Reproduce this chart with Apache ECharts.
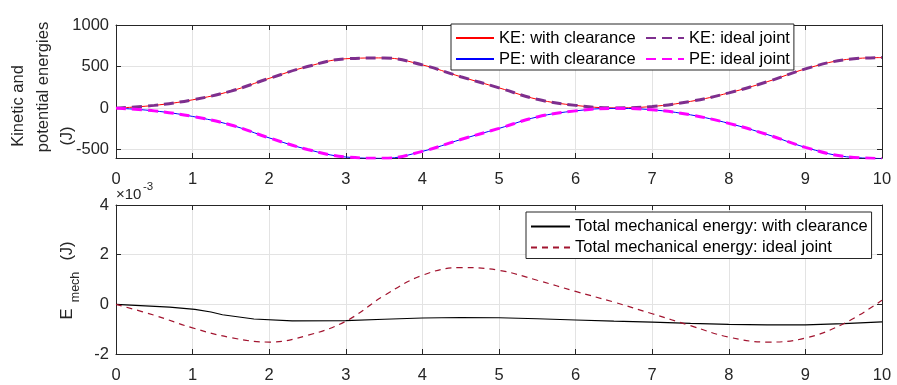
<!DOCTYPE html>
<html>
<head>
<meta charset="utf-8">
<script src="https://cdn.jsdelivr.net/npm/echarts@6/dist/echarts.min.js"></script>
<style>
  html, body { margin: 0; padding: 0; background: #fff; }
  #main { width: 897px; height: 385px; }
</style>
</head>
<body>
<div id="main"></div>
<script>
// time (s), sampled every 0.5 s
var tTop = [0, 0.5, 1, 1.5, 2, 2.5, 3, 3.5, 4, 4.5, 5, 5.5, 6, 6.5, 7, 7.5, 8, 8.5, 9, 9.5, 10];
// energies (J)
var keClear = [0, 33, 100, 205, 358, 500, 594, 604, 520, 378, 244, 106, 33, 3, 20, 81, 183, 317, 472, 581, 608];
var peClear = [0, -33, -100, -203, -358, -497, -588, -604, -520, -378, -244, -106, -33, -3, -20, -81, -183, -317, -472, -581, -606];
var keIdeal = [0, 33, 100, 205, 358, 500, 594, 604, 520, 378, 244, 106, 33, 3, 20, 81, 183, 317, 472, 581, 608];
var peIdeal = [0, -33, -100, -203, -358, -497, -588, -604, -520, -378, -244, -106, -33, -3, -20, -81, -183, -317, -472, -581, -606];

// total mechanical energy (x10^-3 J)
var emIdeal = [0, -0.44, -0.95, -1.34, -1.52, -1.25, -0.68, 0.35, 1.17, 1.48, 1.37, 0.97, 0.52, 0.09, -0.38, -0.86, -1.32, -1.52, -1.36, -0.78, 0.16];
var tClear = [0, 0.7, 0.71, 1.03, 1.04, 1.24, 1.25, 1.39, 1.4, 1.8, 2.3, 3, 3.5, 4, 4.5, 5, 5.5, 6, 6.5, 7, 7.5, 8, 8.5, 9, 9.5, 10];
var emClear = [0, -0.11, -0.15, -0.2, -0.27, -0.31, -0.38, -0.42, -0.47, -0.59, -0.67, -0.66, -0.6, -0.55, -0.53, -0.54, -0.58, -0.63, -0.68, -0.72, -0.77, -0.81, -0.83, -0.83, -0.78, -0.71];

var legendTop = ['KE: with clearance', 'KE: ideal joint', 'PE: with clearance', 'PE: ideal joint'];
var legendBottom = ['Total mechanical energy: with clearance', 'Total mechanical energy: ideal joint'];

function pairs(xs, ys) {
  return xs.map(function (x, i) { return [x, ys[i]]; });
}

var font = 'Liberation Sans, Arial, Helvetica, sans-serif';
var axisColor = '#262626';
var gridColor = '#e3e3e3';

function xAxisMain(gi) {
  return {
    type: 'value', gridIndex: gi, min: 0, max: 10, interval: 1,
    axisLine: { onZero: false, lineStyle: { color: axisColor, width: 1 } },
    axisTick: { inside: true, length: 5, lineStyle: { color: axisColor } },
    axisLabel: { color: axisColor, fontSize: 16.5, fontFamily: font, margin: 13 },
    splitLine: { show: true, lineStyle: { color: gridColor, width: 1 } }
  };
}
function xAxisBox(gi) {
  return {
    type: 'value', gridIndex: gi, position: 'top', min: 0, max: 10, interval: 1,
    axisLine: { onZero: false, lineStyle: { color: axisColor, width: 1 } },
    axisTick: { inside: true, length: 5, lineStyle: { color: axisColor } },
    axisLabel: { show: false },
    splitLine: { show: false }
  };
}

var legendCommon = {
  itemWidth: 38, itemHeight: 12, itemGap: 4,
  borderColor: axisColor, borderWidth: 1, backgroundColor: '#fff',
  itemStyle: { color: 'transparent', borderColor: 'transparent', borderWidth: 0 },
  textStyle: { fontSize: 16.5, fontFamily: font, color: '#000', lineHeight: 17 }
};

var chart = echarts.init(document.getElementById('main'));

var option = {
  animation: false,
  backgroundColor: '#fff',
  grid: [
    { left: 116, right: 15, top: 25, height: 133 },
    { left: 116, right: 15, top: 205, height: 149 }
  ],
  xAxis: [xAxisMain(0), xAxisBox(0), xAxisMain(1), xAxisBox(1)],
  yAxis: [
    {
      type: 'value', gridIndex: 0, min: -600, max: 1000, splitNumber: 3,
      axisLine: { show: true, onZero: false, lineStyle: { color: axisColor } },
      axisTick: { show: true, inside: true, length: 5, lineStyle: { color: axisColor } },
      axisLabel: { color: axisColor, fontSize: 16.5, fontFamily: font, margin: 7, showMinLabel: false,
        formatter: function (v) { return String(v); } },
      splitLine: { show: true, lineStyle: { color: gridColor } }
    },
    {
      type: 'value', gridIndex: 0, position: 'right', min: -600, max: 1000, splitNumber: 3,
      axisLine: { show: true, onZero: false, lineStyle: { color: axisColor } },
      axisTick: { show: true, inside: true, length: 5, lineStyle: { color: axisColor } },
      axisLabel: { show: false },
      splitLine: { show: false }
    },
    {
      type: 'value', gridIndex: 1, min: -2, max: 4, interval: 2,
      axisLine: { show: true, onZero: false, lineStyle: { color: axisColor } },
      axisTick: { show: true, inside: true, length: 5, lineStyle: { color: axisColor } },
      axisLabel: { color: axisColor, fontSize: 16.5, fontFamily: font, margin: 7 },
      splitLine: { show: true, lineStyle: { color: gridColor } }
    },
    {
      type: 'value', gridIndex: 1, position: 'right', min: -2, max: 4, interval: 2,
      axisLine: { show: true, onZero: false, lineStyle: { color: axisColor } },
      axisTick: { show: true, inside: true, length: 5, lineStyle: { color: axisColor } },
      axisLabel: { show: false },
      splitLine: { show: false }
    }
  ],
  legend: [
    Object.assign({}, legendCommon, {
      data: legendTop.map(function (n, i) {
        return i % 2 === 0 ? { name: n, textStyle: { width: 142 } } : { name: n };
      }),
      orient: 'horizontal', left: 451, top: 24, width: 345,
      padding: [5.5, 4, 2.5, 4]
    }),
    Object.assign({}, legendCommon, {
      data: legendBottom,
      orient: 'vertical', left: 526, top: 212,
      itemWidth: 39,
      padding: [6, 4, 2.5, 4]
    })
  ],
  series: [
    {
      name: 'KE: with clearance', type: 'line', xAxisIndex: 0, yAxisIndex: 0,
      data: pairs(tTop, keClear), smooth: 0.4, symbol: 'none',
      lineStyle: { color: '#ff0000', width: 1 }, itemStyle: { color: '#ff0000' }
    },
    {
      name: 'PE: with clearance', type: 'line', xAxisIndex: 0, yAxisIndex: 0,
      data: pairs(tTop, peClear), smooth: 0.4, symbol: 'none',
      lineStyle: { color: '#0000ff', width: 1 }, itemStyle: { color: '#0000ff' }
    },
    {
      name: 'KE: ideal joint', type: 'line', xAxisIndex: 0, yAxisIndex: 0,
      data: pairs(tTop, keIdeal), smooth: 0.4, symbol: 'none',
      lineStyle: { color: '#7e2f8e', width: 3, type: [10, 6] }, itemStyle: { color: '#7e2f8e' }
    },
    {
      name: 'PE: ideal joint', type: 'line', xAxisIndex: 0, yAxisIndex: 0,
      data: pairs(tTop, peIdeal), smooth: 0.4, symbol: 'none',
      lineStyle: { color: '#ff00ff', width: 3, type: [10, 6] }, itemStyle: { color: '#ff00ff' }
    },
    {
      name: 'Total mechanical energy: with clearance', type: 'line', xAxisIndex: 2, yAxisIndex: 2,
      data: pairs(tClear, emClear), symbol: 'none',
      lineStyle: { color: '#000', width: 1.2 }, itemStyle: { color: '#000' }
    },
    {
      name: 'Total mechanical energy: ideal joint', type: 'line', xAxisIndex: 2, yAxisIndex: 2,
      data: pairs(tTop, emIdeal), smooth: 0.4, symbol: 'none',
      lineStyle: { color: '#a2142f', width: 1.2, type: [6, 5] }, itemStyle: { color: '#a2142f' }
    }
  ],
  graphic: [
    // top y label, three lines
    { type: 'text', x: 18, y: 106, rotation: Math.PI / 2,
      style: { text: 'Kinetic and', fontSize: 16.5, fontFamily: font, fill: axisColor, align: 'center', verticalAlign: 'middle' } },
    { type: 'text', x: 43, y: 87, rotation: Math.PI / 2,
      style: { text: 'potential energies', fontSize: 16.5, fontFamily: font, fill: axisColor, align: 'center', verticalAlign: 'middle' } },
    { type: 'text', x: 67, y: 136, rotation: Math.PI / 2,
      style: { text: '(J)', fontSize: 16.5, fontFamily: font, fill: axisColor, align: 'center', verticalAlign: 'middle' } },
    // bottom y label E_mech (J)
    { type: 'text', x: 67, y: 314, rotation: Math.PI / 2,
      style: { text: 'E', fontSize: 16.5, fontFamily: font, fill: axisColor, align: 'center', verticalAlign: 'middle' } },
    { type: 'text', x: 76, y: 287, rotation: Math.PI / 2,
      style: { text: 'mech', fontSize: 12.5, fontFamily: font, fill: axisColor, align: 'center', verticalAlign: 'middle' } },
    { type: 'text', x: 67, y: 251, rotation: Math.PI / 2,
      style: { text: '(J)', fontSize: 16.5, fontFamily: font, fill: axisColor, align: 'center', verticalAlign: 'middle' } },
    // axis exponent
    { type: 'text', x: 116, y: 195,
      style: { text: '×10', fontSize: 15, fontFamily: font, fill: axisColor, align: 'left', verticalAlign: 'middle' } },
    { type: 'text', x: 143, y: 187,
      style: { text: '-3', fontSize: 11.5, fontFamily: font, fill: axisColor, align: 'left', verticalAlign: 'middle' } }
  ]
};

chart.setOption(option);
</script>
</body>
</html>
